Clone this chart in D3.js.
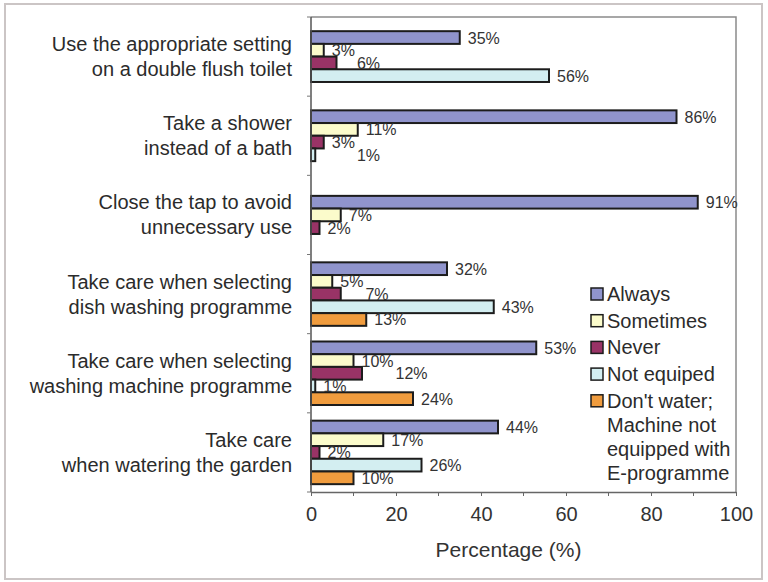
<!DOCTYPE html>
<html>
<head>
<meta charset="utf-8">
<script src="https://cdn.jsdelivr.net/npm/d3@7"></script>
<style>
  html, body { margin: 0; padding: 0; background: #fff; }
  svg { display: block; font-family: Arial, "Liberation Sans", sans-serif; }
</style>
</head>
<body>
<svg id="chart" width="768" height="582"></svg>
<script>
// Water-saving behaviours: share of respondents per answer
const categories = [
  ["Use the appropriate setting", "on a double flush toilet"],
  ["Take a shower", "instead of a bath"],
  ["Close the tap to avoid", "unnecessary use"],
  ["Take care when selecting", "dish washing programme"],
  ["Take care when selecting", "washing machine programme"],
  ["Take care", "when watering the garden"]
];
const seriesNames = ["Always", "Sometimes", "Never", "Not equiped", "Don't water"];
const legendLabels = [
  ["Always"], ["Sometimes"], ["Never"], ["Not equiped"],
  ["Don't water;", "Machine not", "equipped with", "E-programme"]
];
const always     = [35, 86, 91, 32, 53, 44];
const sometimes  = [3, 11, 7, 5, 10, 17];
const never      = [6, 3, 2, 7, 12, 2];
const notEquiped = [56, 1, null, 43, 1, 26];
const dontWater  = [null, null, null, 13, 24, 10];
const xTicks = [0, 20, 40, 60, 80, 100];
const xMinorTicks = [10, 30, 50, 70, 90];

const seriesValues = [always, sometimes, never, notEquiped, dontWater];
const colors = ["#9094cc", "#fbfbcb", "#993366", "#d3eef1", "#f09c3e"];

const svg = d3.select("#chart");

// outer frame
svg.append("rect")
  .attr("x", 5).attr("y", 4).attr("width", 757).attr("height", 575)
  .attr("fill", "#fff").attr("stroke", "#cbc5c5").attr("stroke-width", 2);

const plot = { left: 311, right: 736, top: 17, bottom: 492 };

const x = d3.scaleLinear().domain([0, 100]).range([plot.left, plot.right]);
const y = d3.scaleBand().domain(d3.range(categories.length))
  .range([plot.top, plot.bottom]).paddingInner(0).paddingOuter(0);
const barH = 12.7;

// plot frame (top and right edges)
svg.append("path")
  .attr("d", `M${plot.left},${plot.top}H${plot.right}V${plot.bottom}`)
  .attr("fill", "none").attr("stroke", "#8a8a8a").attr("stroke-width", 1.5);

// bars per category, only answers that were given, centred in the band
const groups = categories.map((c, i) => {
  const present = seriesNames
    .map((s, k) => ({ s, k, v: seriesValues[k][i] }))
    .filter(d => d.v != null);
  const c0 = y(i) + y.bandwidth() / 2;
  const inner = d3.scaleBand().domain(present.map(d => d.k))
    .range([c0 - present.length * barH / 2, c0 + present.length * barH / 2]);
  return present.map(d => ({ ...d, cat: i, y0: inner(d.k), h: inner.bandwidth() }));
});
const rows = groups.flat();

const bars = svg.append("g");
bars.selectAll("rect").data(rows).join("rect")
  .attr("x", x(0))
  .attr("y", d => d.y0)
  .attr("width", d => Math.max(x(d.v) - x(0), 0))
  .attr("height", d => d.h)
  .attr("fill", d => colors[d.k])
  .attr("stroke", "#1c1c1c").attr("stroke-width", 2);

// value labels; a label that would run into the one above slides right past it
const labelG = svg.append("g");
groups.forEach(group => {
  let prev = null;
  group.forEach(d => {
    const t = labelG.append("text")
      .attr("y", d.y0 + d.h / 2 + 6)
      .attr("font-size", 16).attr("fill", "#333")
      .text(d.v + "%");
    const w = t.node().getComputedTextLength();
    let lx = x(d.v) + 8;
    if (prev && lx < prev.x1 && lx + w > prev.x0 + 4) lx = prev.x1 + 2;
    t.attr("x", lx);
    prev = { x0: lx, x1: lx + w };
  });
});

// x axis
const xAxis = d3.axisBottom(x).tickValues(xTicks).tickSize(4).tickPadding(11).tickSizeOuter(0);
const gx = svg.append("g").attr("transform", `translate(0,${plot.bottom})`).call(xAxis);
gx.select(".domain").attr("stroke", "#666").attr("stroke-width", 1.5);
gx.selectAll(".tick line").attr("stroke", "#666");
gx.selectAll(".tick text").attr("font-size", 20).attr("fill", "#333")
  .attr("font-family", "Arial, 'Liberation Sans', sans-serif");
gx.selectAll(".minor").data(xMinorTicks).join("line")
  .attr("class", "minor")
  .attr("x1", d => x(d)).attr("x2", d => x(d))
  .attr("y1", 0).attr("y2", 4).attr("stroke", "#666");

svg.append("text")
  .attr("x", (plot.left + plot.right) / 2 - 15).attr("y", 557)
  .attr("text-anchor", "middle").attr("font-size", 21).attr("fill", "#333")
  .text("Percentage (%)");

// y axis with category boundary ticks
const yAxisG = svg.append("g");
yAxisG.append("line")
  .attr("x1", plot.left).attr("x2", plot.left)
  .attr("y1", plot.top).attr("y2", plot.bottom)
  .attr("stroke", "#555").attr("stroke-width", 1.5);
yAxisG.selectAll("line.tick").data(d3.range(categories.length + 1)).join("line")
  .attr("class", "tick")
  .attr("x1", plot.left - 4).attr("x2", plot.left)
  .attr("y1", i => plot.top + i * y.step()).attr("y2", i => plot.top + i * y.step())
  .attr("stroke", "#777");

// category labels
const lineGap = 25;
const catG = svg.append("g");
categories.forEach((lines, i) => {
  const c0 = y(i) + y.bandwidth() / 2;
  const t = catG.append("text")
    .attr("text-anchor", "end").attr("font-size", 20).attr("fill", "#2b2b2b");
  lines.forEach((ln, j) => {
    t.append("tspan")
      .attr("x", 292)
      .attr("y", c0 + (j - (lines.length - 1) / 2) * lineGap + 7)
      .text(ln);
  });
});

// legend
const legend = svg.append("g");
let ly = 294;
legendLabels.forEach((lines, k) => {
  legend.append("rect")
    .attr("x", 591).attr("y", ly - 6).attr("width", 12).attr("height", 12)
    .attr("fill", colors[k]).attr("stroke", "#1c1c1c").attr("stroke-width", 1.5);
  lines.forEach((ln, j) => {
    legend.append("text")
      .attr("x", 607).attr("y", ly + j * 24 + 7)
      .attr("font-size", 20).attr("fill", "#2b2b2b")
      .text(ln);
  });
  ly += 26.7;
});
</script>
</body>
</html>
